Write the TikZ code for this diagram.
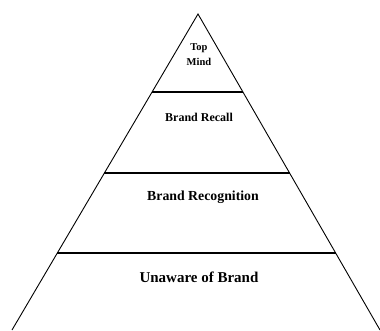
\documentclass[tikz,border=0pt]{standalone}
\usepackage{fontspec}
\setmainfont{Liberation Serif}
\usetikzlibrary{calc}
\begin{document}
\begin{tikzpicture}[x=1pt,y=-1pt,
  side/.style={line width=0.9pt,black},
  divider/.style={line width=1.8pt,black},
  label/.style={font=\bfseries, align=center, inner sep=0pt}]
\useasboundingbox (0,0) rectangle (380,330);
\coordinate (apex) at (198,14);
\coordinate (bl) at (12,330);
\coordinate (br) at (380,330);
\draw[side] (bl) -- (apex) -- (br);
\foreach \t/\n in {0.2468/a,0.503/b,0.756/c}{
  \coordinate (l\n) at ($(apex)!\t!(bl)$);
  \coordinate (r\n) at ($(apex)!\t!(br)$);
  \draw[divider] (l\n) -- (r\n);
}
\node[label, font=\bfseries\fontsize{10.5}{15}\selectfont] (top) at (199,55) {Top\\Mind};
\node[label, font=\bfseries\fontsize{12}{14}\selectfont] (recall) at (199,117) {Brand Recall};
\node[label, font=\bfseries\fontsize{13.8}{16}\selectfont] (recog) at (203,197) {Brand Recognition};
\node[label, font=\bfseries\fontsize{15}{17}\selectfont] (unaware) at (199,277) {Unaware of Brand};
\end{tikzpicture}
\end{document}
